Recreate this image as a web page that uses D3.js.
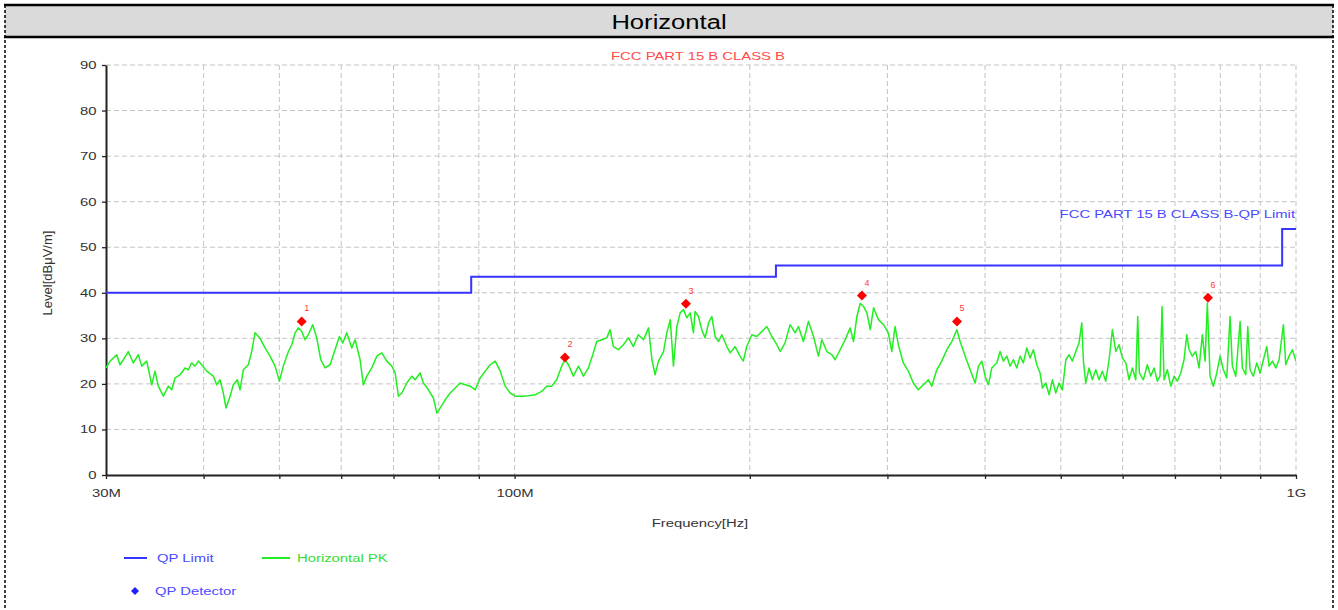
<!DOCTYPE html>
<html>
<head>
<meta charset="utf-8">
<script src="https://cdn.jsdelivr.net/npm/d3@7"></script>
<style>
  body { margin: 0; background: #fff; }
  text { font-family: Arial, "Liberation Sans", sans-serif; }
</style>
</head>
<body>
<div id="chart"></div>
<script>
// ---- data (frequency in MHz, level in dBuV/m) ----
var pkFreqA = [30.0, 30.36, 30.96, 31.26, 31.57, 32.04, 32.51, 33.0, 33.33, 33.82, 34.33, 34.66, 35.0, 35.52, 36.05, 36.41, 36.77, 37.31, 37.87, 38.24, 38.62, 39.0, 39.38, 39.77, 40.37, 41.16, 41.57, 41.98, 42.39, 42.73, 43.24, 43.66, 44.18, 44.53, 44.96, 45.63, 46.09, 46.54, 47.23, 47.93, 48.65, 49.37, 50.0, 50.59, 51.35, 51.86, 52.37, 52.88, 53.41, 53.93, 54.46, 55.17, 55.83, 56.49, 57.21, 58.06, 58.92, 59.67, 60.27, 60.99, 61.89, 62.5, 63.43, 64.05, 64.69, 65.65, 66.63, 67.62, 68.63, 69.65, 70.33, 71.01];
var pkLevelA = [23.5, 25, 26.4, 24.2, 25.3, 27.1, 24.6, 26.4, 23.9, 25, 19.8, 22.8, 19.5, 17.3, 19.5, 18.7, 21.3, 22, 23.5, 23.1, 24.6, 23.9, 25, 24.2, 22.8, 21.7, 19.8, 20.9, 18, 14.7, 17.3, 19.8, 20.9, 18.7, 23.1, 24.2, 27.1, 31.2, 30, 27.9, 26.1, 23.9, 20.6, 23.9, 27.1, 28.6, 31.2, 32.3, 31.5, 29.7, 30.8, 33, 30, 25.3, 23.5, 24.2, 27.5, 30.4, 29, 31.2, 27.9, 29.7, 25.3, 19.8, 21.7, 23.5, 26.1, 26.8, 25, 23.9, 22.4, 17.3];

var pkFreqB = [71.73, 72.79, 73.87, 74.6, 75.7, 76.44, 77.58, 78.73, 79.52, 80.3, 81.5, 82.71, 83.94, 85.19, 86.45, 87.74, 89.04, 90.37, 91.71, 93.07, 94.46, 95.86, 97.28, 98.73, 100.2, 102.2, 104.2, 106.3, 108.4, 109.9, 111.6, 113.2, 114.9, 116.0, 117.2, 118.9, 120.7, 122.5, 124.3, 126.1, 127.4, 129.3, 131.2, 132.5, 133.8, 135.8, 137.8, 139.9, 141.9, 144.0, 146.2, 148.4, 149.9, 151.3, 152.8, 155.1, 156.6, 158.2, 159.7, 161.3, 162.9, 164.5, 166.1, 167.8, 169.4];
var pkLevelB = [18, 20.2, 21.7, 20.9, 22.4, 20.2, 18.7, 16.9, 13.6, 14.7, 16.5, 18, 19.1, 20.2, 19.8, 19.5, 18.7, 21.3, 22.8, 24.2, 25, 22.8, 19.5, 18, 17.3, 17.3, 17.4, 17.6, 18.4, 19.5, 19.5, 20.9, 23.9, 25.3, 24.2, 21.7, 23.9, 21.7, 23.5, 26.8, 29.3, 29.7, 30.1, 31.9, 28.2, 27.5, 28.6, 30.1, 28.2, 30.8, 29.7, 32.3, 25.3, 22, 25, 27.1, 31.2, 34.1, 23.9, 32.6, 35.6, 36.3, 34.5, 35.6, 31.2];

var pkFreqC = [170.2, 171.9, 173.6, 175.3, 177.1, 178.8, 180.6, 182.4, 184.2, 186.9, 188.8, 191.5, 194.3, 196.2, 198.2, 201.2, 204.1, 207.2, 210.3, 213.4, 216.6, 218.7, 221.9, 225.2, 228.6, 230.8, 234.2, 237.7, 241.3, 244.8, 247.3, 251.0, 254.7, 257.2, 261.0, 264.9, 268.8, 271.5, 274.2, 276.9, 279.6, 282.4, 285.2, 288.0, 292.2, 296.6, 300.8, 303.9, 306.8, 309.8, 314.4, 319.1, 323.8, 328.6, 333.5, 338.5, 341.9, 347.0, 352.1, 357.4, 362.7, 368.1, 371.7, 377.2, 382.8, 388.5, 392.3, 396.3, 400.1, 404.0];
var pkLevelC = [35.9, 34.8, 31.9, 30.1, 33.4, 34.8, 30.4, 29.3, 30.8, 28.2, 26.8, 28.2, 26.1, 25, 28.2, 30.8, 30.4, 31.5, 32.6, 30.4, 28.6, 27.1, 29, 33, 31.2, 32.6, 29.3, 33.7, 30.4, 26.1, 29.7, 27.1, 26.4, 25.3, 27.5, 29.7, 32.3, 29.3, 34.8, 37.7, 37, 35.6, 31.9, 36.7, 34.1, 33, 31.2, 27.1, 32.6, 28.6, 24.6, 22.8, 20.2, 18.7, 19.8, 20.9, 19.5, 23.1, 25, 27.5, 29.3, 31.9, 29.3, 26.1, 23.1, 20.2, 23.9, 25, 21.7, 19.8];

var pkFreqD = [408.0, 414.1, 418.1, 422.2, 426.5, 430.6, 434.9, 439.2, 443.5, 447.8, 452.3, 456.8, 461.2, 465.9, 470.4, 473.6, 478.4, 483.1, 487.8, 492.7, 497.5, 502.4, 507.5, 512.4, 517.4, 522.6, 527.7, 531.9, 534.5, 538.2, 543.5, 548.8, 554.3, 559.7, 565.2, 570.9, 576.5, 582.1, 588.0, 593.7, 599.5, 605.6, 611.5, 617.4, 623.6, 627.3, 630.3, 637.8, 645.3, 651.8, 658.2, 664.6, 669.9, 673.9, 677.9, 684.5, 691.4, 698.2, 705.0, 712.1, 719.0, 724.8, 729.7, 736.8, 744.2, 751.5, 758.9, 764.9, 770.1, 776.3, 783.9, 791.8, 799.5, 807.3, 815.5, 823.4, 829.0, 837.4, 848.1, 853.8, 862.4, 867.5, 873.4, 882.0, 890.8, 899.5, 908.4, 917.5, 923.8, 932.8, 942.2, 951.4, 963.5, 970.3, 979.8, 989.4, 1000];
var pkLevelD = [23.5, 24.6, 27.1, 25, 26.1, 23.9, 25.3, 23.5, 26.1, 24.6, 27.9, 25.7, 27.5, 24.2, 22.4, 19.1, 20.2, 17.6, 20.9, 18, 20.2, 18.7, 25.3, 26.4, 25, 27.1, 29, 33.4, 25, 20.2, 23.5, 20.9, 23.1, 20.9, 22.8, 20.6, 25.3, 31.9, 27.1, 28.6, 25.7, 24.6, 20.9, 23.5, 20.9, 34.8, 22.4, 20.9, 24.2, 21.7, 23.5, 20.6, 21.7, 37, 20.9, 23.1, 19.5, 21.7, 20.6, 22.4, 25.3, 30.8, 27.5, 26.1, 27.1, 23.5, 30.8, 25, 37.7, 21.7, 19.5, 22.4, 26.1, 23.1, 21.3, 34.8, 23.9, 21.7, 33.7, 23.5, 22, 32.6, 23.1, 21.7, 24.6, 22.4, 25.3, 28.2, 23.9, 25, 23.5, 25.3, 33, 24.2, 26.1, 27.5, 25];

// FCC Part 15 class B QP limit (steps)
var limitFreq = [30, 88, 216, 960, 1000];
var limitLevel = [40, 43.5, 46, 54, 54];

// QP detector points
var qpFreq = [53.4, 116.0, 165.7, 278.3, 368.3, 771.6];
var qpLevel = [33.7, 25.8, 37.6, 39.4, 33.7, 38.9];
var qpNames = ["1", "2", "3", "4", "5", "6"];

// axis ticks
var yTicks = [0, 10, 20, 30, 40, 50, 60, 70, 80, 90];
var xTicks = [30, 40, 50, 60, 70, 80, 90, 100, 200, 300, 400, 500, 600, 700, 800, 900, 1000];
var xLabelFreq = [30, 100, 1000];
var xLabelText = ["30M", "100M", "1G"];

// ---- layout ----
var margin = {top: 65, right: 42, bottom: 135, left: 106},
    width = 1338 - margin.left - margin.right,
    height = 610 - margin.top - margin.bottom;

var SX = 1.35; // the source picture has wide glyphs

var svg = d3.select("#chart")
    .append("svg")
    .attr("width", 1338)
    .attr("height", 610);

// report frame + header band
svg.append("rect")
    .attr("x", 5).attr("y", 5)
    .attr("width", 1328).attr("height", 32)
    .attr("fill", "#dadada");
svg.append("line")
    .attr("x1", 4).attr("x2", 1334).attr("y1", 5).attr("y2", 5)
    .attr("stroke", "#000").attr("stroke-width", 2.5);
svg.append("line")
    .attr("x1", 4).attr("x2", 1334).attr("y1", 37).attr("y2", 37)
    .attr("stroke", "#000").attr("stroke-width", 2.5);
[5, 1333].forEach(function(xx){
  svg.append("line")
      .attr("x1", xx).attr("x2", xx).attr("y1", 5).attr("y2", 610)
      .attr("stroke", "#000").attr("stroke-width", 1.5)
      .attr("stroke-dasharray", "3,2");
});

function addText(parent, x, y, txt, size, color, anchor, sx) {
  return parent.append("text")
      .attr("transform", "translate(" + x + "," + y + ") scale(" + (sx || SX) + ",1)")
      .attr("text-anchor", anchor || "start")
      .style("font-size", size + "px")
      .attr("fill", color)
      .text(txt);
}

addText(svg, 669, 29, "Horizontal", 20, "#000", "middle", 1.28);

var g = svg.append("g")
    .attr("transform", "translate(" + margin.left + "," + margin.top + ")");

var x = d3.scaleLog().domain([30, 1000]).range([0, width]);
var y = d3.scaleLinear().domain([0, 90]).range([height, 0]);

// grid
g.selectAll(".ygrid")
    .data(yTicks.filter(function(d){ return d > 0; }))
    .enter().append("line")
    .attr("class", "ygrid")
    .attr("x1", 0).attr("x2", width)
    .attr("y1", function(d){ return y(d); })
    .attr("y2", function(d){ return y(d); })
    .attr("stroke", "#c4c4c4")
    .attr("stroke-dasharray", "5,3");

g.selectAll(".xgrid")
    .data(xTicks.filter(function(d){ return d > 30; }))
    .enter().append("line")
    .attr("class", "xgrid")
    .attr("x1", function(d){ return x(d); })
    .attr("x2", function(d){ return x(d); })
    .attr("y1", 0).attr("y2", height)
    .attr("stroke", "#c4c4c4")
    .attr("stroke-dasharray", "5,3");

// axes
var xAxisCall = d3.axisBottom(x)
    .tickValues(xTicks)
    .tickSize(4)
    .tickSizeOuter(0)
    .tickPadding(10)
    .tickFormat(function(d){
        var i = xLabelFreq.indexOf(d);
        return i >= 0 ? xLabelText[i] : "";
    });
var xAxis = g.append("g")
    .attr("transform", "translate(0," + height + ")")
    .call(xAxisCall);

var yAxisCall = d3.axisLeft(y)
    .tickValues(yTicks)
    .tickSize(4)
    .tickSizeOuter(0)
    .tickPadding(3);
var yAxis = g.append("g").call(yAxisCall);

[xAxis, yAxis].forEach(function(a){
  a.select(".domain").attr("stroke", "#222").attr("stroke-width", 2);
  a.selectAll(".tick line").attr("stroke", "#222").attr("stroke-width", 1.3);
  a.selectAll(".tick text")
      .attr("fill", "#333")
      .style("font-size", "11px")
      .style("font-family", "Arial, 'Liberation Sans', sans-serif")
      .attr("transform", "scale(" + SX + ",1)");
});

// axis titles
addText(svg, 700, 527, "Frequency[Hz]", 11, "#333", "middle");
svg.append("text")
    .attr("transform", "translate(52,273) rotate(-90)")
    .attr("text-anchor", "middle")
    .style("font-size", "13px")
    .attr("fill", "#333")
    .text("Level[dBμV/m]");

// chart title
addText(svg, 698, 60, "FCC PART 15 B CLASS B", 11, "#ff4a4a", "middle");

// clip
svg.append("defs").append("clipPath").attr("id", "plotclip")
  .append("rect").attr("x", 0).attr("y", 0).attr("width", width).attr("height", height);

// peak trace
var pkFreq = pkFreqA.concat(pkFreqB, pkFreqC, pkFreqD);
var pkLevel = pkLevelA.concat(pkLevelB, pkLevelC, pkLevelD);
var n = Math.min(pkFreq.length, pkLevel.length);
var pkData = d3.range(n).map(function(i){ return {f: pkFreq[i], v: pkLevel[i]}; });

var line = d3.line()
    .x(function(d){ return x(d.f); })
    .y(function(d){ return y(d.v); });

g.append("path")
    .datum(pkData)
    .attr("clip-path", "url(#plotclip)")
    .attr("fill", "none")
    .attr("stroke", "#22ee22")
    .attr("stroke-width", 1.5)
    .attr("stroke-linejoin", "round")
    .attr("d", line);

// limit line
var limitData = limitFreq.map(function(f, i){ return {f: f, v: limitLevel[i]}; });
g.append("path")
    .datum(limitData)
    .attr("fill", "none")
    .attr("stroke", "#3535ff")
    .attr("stroke-width", 2)
    .attr("d", line.curve(d3.curveStepAfter));

addText(g, width - 1, y(54) - 11, "FCC PART 15 B CLASS B-QP Limit", 11, "#4a4aff", "end");

// QP detector markers
var qpData = qpFreq.map(function(f, i){ return {f: f, v: qpLevel[i], name: qpNames[i]}; });
var marks = g.selectAll(".qp")
    .data(qpData)
    .enter().append("g")
    .attr("class", "qp")
    .attr("transform", function(d){ return "translate(" + x(d.f) + "," + y(d.v) + ")"; });
marks.append("path")
    .attr("d", d3.symbol().type(d3.symbolSquare).size(50))
    .attr("transform", "rotate(45)")
    .attr("fill", "#ff0000");
marks.append("text")
    .attr("x", 5).attr("y", -10)
    .attr("text-anchor", "middle")
    .style("font-size", "9px")
    .attr("fill", "#ff3a3a")
    .text(function(d){ return d.name; });

// legend
var legend = svg.append("g");
legend.append("line")
    .attr("x1", 124).attr("x2", 147).attr("y1", 558).attr("y2", 558)
    .attr("stroke", "#3535ff").attr("stroke-width", 2);
addText(legend, 157, 562, "QP Limit", 11, "#4a4aff");
legend.append("line")
    .attr("x1", 262).attr("x2", 290).attr("y1", 558).attr("y2", 558)
    .attr("stroke", "#22ee22").attr("stroke-width", 2);
addText(legend, 297, 562, "Horizontal PK", 11, "#33dd33");
legend.append("path")
    .attr("d", d3.symbol().type(d3.symbolSquare).size(32))
    .attr("transform", "translate(135,591) rotate(45)")
    .attr("fill", "#2020ff");
addText(legend, 155, 595, "QP Detector", 11, "#4a4aff");
</script>
</body>
</html>
